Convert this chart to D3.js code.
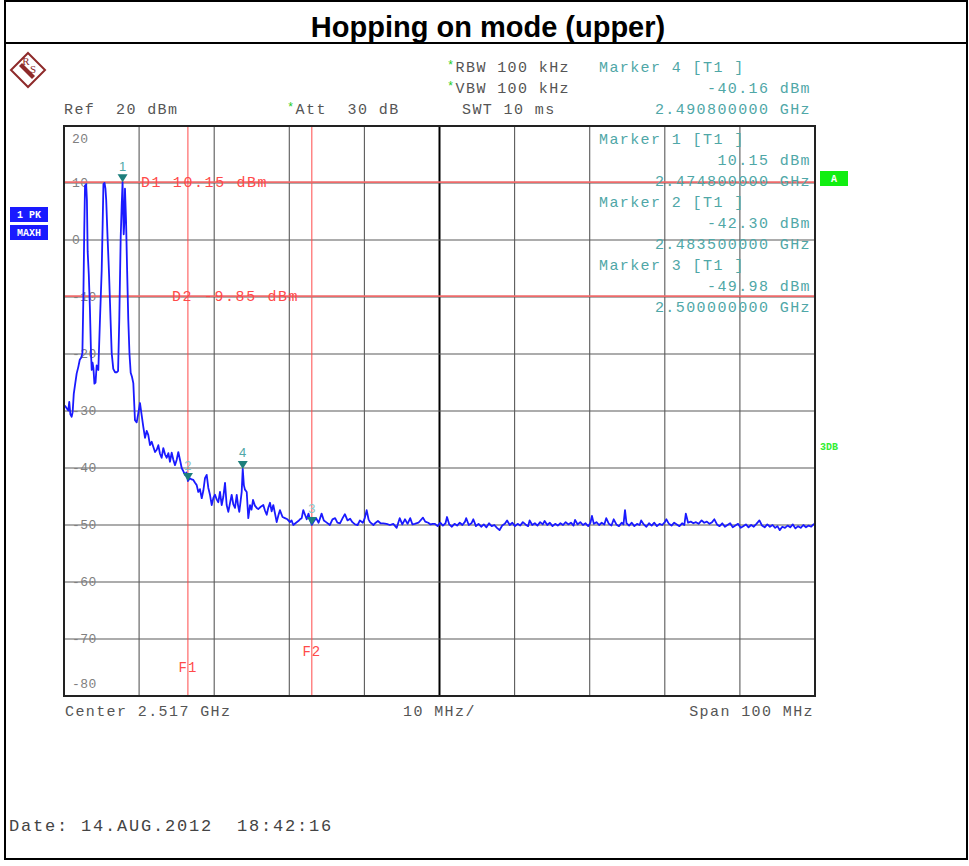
<!DOCTYPE html>
<html><head><meta charset="utf-8">
<script src="https://cdn.jsdelivr.net/npm/d3@7"></script>
<style>
html,body{margin:0;padding:0;background:#fff;}
svg{display:block;}
text{white-space:pre;}
.mono{font-family:"Liberation Mono","DejaVu Sans Mono",monospace;}
</style></head>
<body><svg id="c" width="969" height="866"></svg>
<script>
// ---------- DATA ----------
const title = "Hopping on mode (upper)";
const centerGHz = 2.517;
const spanMHz = 100;
const refLevel = 20;
const yTickValues = [20, 10, 0, -10, -20, -30, -40, -50, -60, -70, -80];
const yTickLabels = ["20", "10", "0", "-10", "-20", "-30", "-40", "-50", "-60", "-70", "-80"];

// trace, near part: frequency (MHz) and level (dBm)
const nearFreqMHz = [
 2467.0,2467.2,2467.36,2467.57,2467.7,2467.85,2468.02,2468.15,2468.3,2468.46,
 2468.69,2468.9,2469.1,2469.3,2469.45,2469.58,2469.7,2469.8,2469.88,2469.95,
 2470.05,2470.15,2470.3,2470.45,2470.6,2470.69,2470.8,2470.92,2471.05,2471.2,
 2471.35,2471.57,2471.79,2472.02,2472.15,2472.25,2472.4,2472.52,2472.62,2472.8,
 2473.0,2473.2,2473.35,2473.56,2473.8,2474.02,2474.2,2474.36,2474.55,2474.68,
 2474.8,2474.88,2474.95,2475.05,2475.12,2475.26,2475.4,2475.56,2475.72,2475.88,
 2476.05,2476.23,2476.45,2476.68,2476.89,2477.12,2477.35,2477.56,2477.79,2478.01,
 2478.22,2478.45,2478.68,2478.9,2479.12,2479.35,2479.56,2479.78,2480.0,2480.22,
 2480.45,2480.68,2480.9,2481.11,2481.34,2481.55,2481.78,2482.0,2482.22,2482.45,
 2482.67,2482.9,2483.11,2483.3,2483.5,2483.75,2484.0,2484.22,2484.45,2484.67,
 2484.88,2485.1,2485.34,2485.55,2485.77,2486.0,2486.22,2486.44,2486.67,2486.9,
 2487.11,2487.33,2487.55,2487.77,2488.0,2488.22,2488.44,2488.66,2488.88,2489.1,
 2489.33,2489.55,2489.77,2490.0,2490.17,2490.34,2490.5,2490.66,2490.8,2490.95,
 2491.1,2491.33,2491.54,2491.77,2491.97,2492.17,2492.42,2492.66,2492.87,2493.2,
 2493.54,2493.77,2493.99,2494.2,2494.43,2494.65,2494.87,2495.1,2495.32,2495.55,
 2495.75,2496.1,2496.42,2496.75,2497.09,2497.3,2497.53,2497.9,2498.2,2498.42,
 2498.65,2498.86,2499.09,2499.32,2499.56,2499.8,2500.0,2500.25,2500.57,2500.9,
 2501.3,2501.6,2501.9,2502.4,2502.75,2503.1,2503.4,2503.75,2504.1,2504.4,
 2504.75,2505.1,2505.4,2505.75,2506.1,2506.4,2506.8,2507.05,2507.3,2507.55,
 2507.75,2508.2,2508.5,2508.8,2509.15,2509.5,2509.95,2510.4,2510.85,2511.3,
 2511.7,2512.05,2512.4,2512.75,2513.1,2513.4,2513.7,2514.2,2514.8,2515.1,
 2515.5,2515.8,2516.1
];
const nearLevelDbm = [
 -29.0,-29.2,-29.5,-29.9,-28.4,-30.6,-31.0,-30.2,-27.0,-25.5,
 -23.4,-22.3,-21.0,-20.6,-19.8,-10.0,2.0,9.6,8.0,9.8,
 7.0,-2.0,-6.0,-12.0,-20.0,-22.8,-21.5,-22.5,-25.2,-25.0,
 -22.0,-22.8,-14.0,-5.3,3.0,9.8,10.0,9.0,7.0,0.5,
 -6.0,-14.0,-19.8,-22.6,-23.2,-23.2,-23.0,-14.0,0.5,6.0,
 10.15,5.0,1.0,3.5,9.0,3.5,-5.0,-14.0,-20.0,-23.3,
 -24.0,-25.1,-31.6,-32.0,-30.4,-28.6,-30.8,-32.8,-34.7,-33.5,
 -34.2,-36.0,-35.4,-36.3,-37.2,-36.8,-36.0,-37.5,-38.2,-36.5,
 -37.6,-38.2,-37.4,-38.9,-37.3,-38.5,-39.5,-38.6,-37.2,-38.6,
 -40.0,-40.6,-41.2,-40.8,-42.3,-41.8,-42.0,-42.1,-42.6,-43.0,
 -44.2,-43.7,-45.3,-44.0,-41.8,-41.2,-43.5,-44.7,-46.5,-45.2,
 -44.7,-45.5,-46.0,-44.2,-46.5,-45.0,-42.6,-46.5,-47.7,-46.2,
 -44.7,-46.4,-47.0,-44.7,-46.5,-47.7,-46.0,-44.2,-40.16,-43.0,
 -43.8,-44.2,-48.8,-46.5,-47.3,-45.6,-46.6,-47.0,-47.2,-46.8,
 -46.5,-47.5,-48.2,-47.0,-46.1,-47.6,-46.5,-48.0,-49.5,-48.3,
 -47.4,-48.6,-48.8,-49.0,-49.5,-49.2,-50.0,-49.6,-49.3,-49.0,
 -48.8,-47.4,-48.2,-49.0,-48.0,-49.3,-49.98,-49.4,-48.8,-49.6,
 -48.0,-49.2,-49.5,-50.0,-49.0,-48.8,-49.6,-49.7,-48.8,-48.1,
 -49.2,-48.9,-49.5,-49.9,-50.0,-49.2,-49.6,-48.8,-47.4,-49.0,
 -49.5,-50.0,-49.6,-49.3,-49.7,-49.7,-49.8,-50.0,-49.8,-50.5,
 -48.8,-49.9,-49.0,-49.8,-48.8,-49.9,-49.8,-49.6,-48.7,-49.4,
 -49.6,-49.9,-49.8
];
// trace, noise floor part
const floorFreqMHz = [
 2516.4,2516.75,2517.1,2517.45,2517.8,2518.0,2518.3,2518.65,2519.0,2519.35,
 2519.7,2520.05,2520.4,2520.55,2520.9,2521.25,2521.5,2521.85,2522.2,2522.55,
 2522.9,2523.25,2523.6,2523.95,2524.3,2524.65,2525.0,2525.35,2525.7,2526.0,
 2526.35,2526.7,2527.05,2527.4,2527.75,2528.1,2528.45,2528.8,2529.0,2529.35,
 2529.7,2530.05,2530.4,2530.75,2531.0,2531.35,2531.7,2532.05,2532.4,2532.75,
 2533.1,2533.45,2533.8,2534.15,2534.5,2534.85,2535.05,2535.4,2535.75,2536.1,
 2536.45,2536.8,2537.1,2537.3,2537.55,2537.9,2538.25,2538.6,2538.95,2539.2,
 2539.55,2539.9,2540.2,2540.55,2540.9,2541.25,2541.5,2541.7,2541.9,2542.25,
 2542.6,2542.95,2543.3,2543.65,2543.85,2544.2,2544.55,2544.9,2545.25,2545.6,
 2545.95,2546.3,2546.65,2547.0,2547.2,2547.55,2547.9,2548.25,2548.6,2548.95,
 2549.3,2549.6,2549.8,2550.1,2550.45,2550.8,2551.15,2551.5,2551.9,2552.25,
 2552.6,2552.95,2553.3,2553.6,2553.95,2554.3,2554.65,2555.0,2555.35,2555.7,
 2556.05,2556.4,2556.75,2557.1,2557.45,2557.8,2558.15,2558.5,2558.85,2559.2,
 2559.6,2559.95,2560.3,2560.65,2561.0,2561.35,2561.7,2562.0,2562.3,2562.65,
 2563.0,2563.35,2563.7,2564.05,2564.4,2564.75,2565.1,2565.45,2565.8,2566.15,
 2566.5,2566.8,2567.0
];
const floorLevelDbm = [
 -49.8,-50.2,-49.6,-50.1,-49.7,-48.6,-49.9,-50.3,-49.8,-50.1,
 -49.6,-50.0,-49.4,-48.8,-50.0,-49.7,-49.0,-50.2,-49.8,-50.3,
 -49.9,-50.4,-49.7,-50.2,-50.0,-50.5,-50.9,-50.1,-49.8,-49.2,
 -50.0,-49.6,-50.2,-49.8,-50.1,-49.5,-49.9,-50.2,-49.2,-50.0,
 -49.7,-50.1,-49.5,-49.9,-49.3,-50.0,-49.6,-50.2,-49.8,-50.1,
 -49.7,-50.0,-49.5,-49.9,-49.6,-50.1,-49.1,-49.9,-49.5,-50.0,
 -49.7,-50.2,-49.6,-48.4,-49.8,-49.5,-50.0,-49.6,-49.9,-48.8,
 -49.8,-50.1,-49.0,-49.9,-50.2,-49.6,-49.9,-47.4,-49.7,-50.1,
 -49.6,-50.2,-49.8,-50.0,-49.2,-49.9,-50.3,-49.7,-50.1,-49.6,
 -50.2,-49.8,-50.0,-49.5,-49.0,-49.8,-50.1,-49.6,-49.9,-50.2,
 -49.7,-50.0,-48.0,-49.6,-49.4,-49.7,-49.5,-49.8,-49.2,-49.6,
 -49.4,-49.8,-49.5,-49.0,-49.9,-50.2,-49.7,-50.3,-50.0,-49.7,
 -50.4,-50.1,-49.8,-50.5,-50.2,-49.9,-50.4,-50.0,-50.3,-49.8,
 -49.2,-50.1,-50.4,-49.9,-50.3,-50.0,-50.5,-50.2,-50.9,-50.3,
 -50.5,-50.1,-50.4,-49.9,-50.6,-50.2,-50.5,-50.0,-50.4,-50.1,
 -50.3,-49.9,-49.8
];

// markers
const markerIds = ["1", "2", "3", "4"];
const markerFreqMHz = [2474.8, 2483.5, 2500.0, 2490.8];
const markerLevelDbm = [10.15, -42.30, -49.98, -40.16];
const markerFreqLabels = ["2.474800000 GHz", "2.483500000 GHz", "2.500000000 GHz", "2.490800000 GHz"];

// display lines
const dLineNames = ["D1", "D2"];
const dLineLevels = [10.15, -9.85];
const fLineNames = ["F1", "F2"];
const fLineFreqMHz = [2483.5, 2500.0];

// header / footer texts
const rbwText = "RBW 100 kHz";
const vbwText = "VBW 100 kHz";
const refText = "Ref  20 dBm";
const attText = "Att  30 dB";
const swtText = "SWT 10 ms";
const footerLeft = "Center 2.517 GHz";
const footerMid = "10 MHz/";
const footerRight = "Span 100 MHz";
const dateText = "Date: 14.AUG.2012  18:42:16";

// ---------- DRAW ----------
const svg = d3.select("#c");
const plot = {left: 64, right: 815, top: 126, bottom: 696};

const startMHz = centerGHz * 1000 - spanMHz / 2;
const x = d3.scaleLinear().domain([startMHz, startMHz + spanMHz]).range([plot.left, plot.right]);
const y = d3.scaleLinear().domain([-80, refLevel]).range([plot.bottom, plot.top]);

const teal = "#4fa7a7";
const tealDark = "#1d7f7c";
const red = "#ff4a4a";
const gray = "#555";

// outer frame + title
svg.append("rect").attr("x", 5).attr("y", 1).attr("width", 962).attr("height", 858)
  .attr("fill", "none").attr("stroke", "#000").attr("stroke-width", 2);
svg.append("line").attr("x1", 5).attr("x2", 967).attr("y1", 43).attr("y2", 43)
  .attr("stroke", "#000").attr("stroke-width", 2);
svg.append("text").attr("x", 488).attr("y", 37).attr("text-anchor", "middle")
  .attr("font-family", "Liberation Sans, Arial, sans-serif").attr("font-weight", "bold")
  .attr("font-size", 29).attr("fill", "#000").text(title);

// R&S logo
const logo = svg.append("g").attr("transform", "translate(28,70)");
const logoCol = "#8e2a2a";
logo.append("path").attr("d", "M0,-17 L17,0 L0,17 L-17,0 Z").attr("fill", "#fff")
  .attr("stroke", logoCol).attr("stroke-width", 2);
logo.append("path").attr("d", "M-9,-4 L4,9 L7,6 L-6,-7 Z").attr("fill", logoCol);
logo.append("text").attr("x", -2).attr("y", -5).attr("font-family", "Liberation Serif, serif")
  .attr("font-size", 11).attr("fill", logoCol).attr("text-anchor", "middle").text("R");
logo.append("text").attr("x", 5).attr("y", 3).attr("font-family", "Liberation Serif, serif")
  .attr("font-size", 11).attr("fill", logoCol).attr("text-anchor", "middle").text("S");

// header texts
function monoText(xp, yp, str, opts = {}) {
  return svg.append("text").attr("class", "mono").attr("x", xp).attr("y", yp)
    .attr("font-size", opts.size || 15).attr("letter-spacing", opts.ls != null ? opts.ls : 1.4)
    .attr("fill", opts.fill || gray).attr("dominant-baseline", "central")
    .attr("text-anchor", opts.anchor || "start").text(str);
}
function starText(xp, yp, str) {
  const t = svg.append("text").attr("class", "mono").attr("x", xp).attr("y", yp)
    .attr("font-size", 15).attr("letter-spacing", 1.4).attr("fill", gray).attr("dominant-baseline", "central");
  t.append("tspan").attr("fill", "#22cc22").attr("font-size", 12).attr("dy", -2).text("*");
  t.append("tspan").attr("dy", 2).text(str);
}
starText(447, 68, rbwText);
starText(447, 89, vbwText);
monoText(64, 110, refText);
starText(287, 110, attText);
monoText(462, 110, swtText);
monoText(599, 68, "Marker 4 [T1 ]", {fill: teal});
monoText(811, 89, markerLevelDbm[3].toFixed(2) + " dBm", {fill: teal, anchor: "end"});
monoText(811, 110, markerFreqLabels[3], {fill: teal, anchor: "end"});

// grid
const g = svg.append("g");
const xGrid = d3.range(0, 11).map(i => startMHz + i * spanMHz / 10);
g.selectAll(".vg").data(xGrid).join("line")
  .attr("x1", d => x(d)).attr("x2", d => x(d)).attr("y1", plot.top).attr("y2", plot.bottom)
  .attr("stroke", (d, i) => i === 5 ? "#000" : "#5a5a5a")
  .attr("stroke-width", (d, i) => i === 5 ? 2 : 1.1);
g.selectAll(".hg").data(yTickValues).join("line")
  .attr("x1", plot.left).attr("x2", plot.right).attr("y1", d => y(d)).attr("y2", d => y(d))
  .attr("stroke", "#5a5a5a").attr("stroke-width", 1.1);

// y tick labels inside plot
g.selectAll(".yl").data(yTickValues).join("text").attr("class", "mono")
  .attr("x", 72)
  .attr("y", d => y(d) + (d === 20 ? 13 : d === -80 ? -12 : 0))
  .attr("dominant-baseline", "central").attr("font-size", 13).attr("letter-spacing", 0.5)
  .attr("fill", "#808080").text((d, i) => yTickLabels[i]);

// F lines
fLineFreqMHz.forEach(f => {
  svg.append("line").attr("x1", x(f)).attr("x2", x(f)).attr("y1", plot.top).attr("y2", plot.bottom)
    .attr("stroke", red).attr("stroke-width", 1);
});
[668, 652].forEach((yy, i) => {
  svg.append("text").attr("class", "mono").attr("x", x(fLineFreqMHz[i])).attr("y", yy)
    .attr("text-anchor", "middle").attr("dominant-baseline", "central").attr("font-size", 14)
    .attr("letter-spacing", 1).attr("fill", red).text(fLineNames[i]);
});

// D lines
dLineLevels.forEach(lv => {
  svg.append("line").attr("x1", plot.left).attr("x2", plot.right).attr("y1", y(lv)).attr("y2", y(lv))
    .attr("stroke", "#ee6a6a").attr("stroke-width", 1.8);
});
monoText(141, y(dLineLevels[0]) + 1, dLineNames[0] + " " + dLineLevels[0].toFixed(2) + " dBm", {fill: red, ls: 1.6});
monoText(172, y(dLineLevels[1]) + 1, dLineNames[1] + " " + dLineLevels[1].toFixed(2) + " dBm", {fill: red, ls: 1.6});

// marker info (markers 1..3)
[0, 1, 2].forEach(i => {
  const y0 = 140 + i * 63;
  monoText(599, y0, "Marker " + markerIds[i] + " [T1 ]", {fill: teal});
  monoText(811, y0 + 21, markerLevelDbm[i].toFixed(2) + " dBm", {fill: teal, anchor: "end"});
  monoText(811, y0 + 42, markerFreqLabels[i], {fill: teal, anchor: "end"});
});

// trace
const traceFreq = nearFreqMHz.concat(floorFreqMHz);
const traceLevel = nearLevelDbm.concat(floorLevelDbm);
const tracePts = traceFreq.map((f, i) => [f, traceLevel[i]]);
svg.append("path").datum(tracePts)
  .attr("d", d3.line().x(d => x(d[0])).y(d => y(d[1])))
  .attr("fill", "none").attr("stroke", "#1a1aff").attr("stroke-width", 1.8)
  .attr("stroke-linejoin", "round");

// markers
markerIds.forEach((id, i) => {
  const mx = x(markerFreqMHz[i]), my = y(markerLevelDbm[i]);
  svg.append("path").attr("d", `M${mx - 5},${my - 8} L${mx + 5},${my - 8} L${mx},${my} Z`)
    .attr("fill", tealDark);
  svg.append("text").attr("x", mx).attr("y", my - 16).attr("text-anchor", "middle")
    .attr("dominant-baseline", "central").attr("font-family", "Liberation Sans, sans-serif")
    .attr("font-size", 13).attr("fill", id === "2" || id === "3" ? "#8cc6c6" : teal).text(id);
});

// left trace info boxes
[["1 PK", 207], ["MAXH", 225]].forEach(([t, yy]) => {
  svg.append("rect").attr("x", 10).attr("y", yy).attr("width", 38).attr("height", 15).attr("fill", "#1a1aff");
  svg.append("text").attr("class", "mono").attr("x", 29).attr("y", yy + 8).attr("text-anchor", "middle")
    .attr("dominant-baseline", "central").attr("font-size", 10).attr("font-weight", "bold")
    .attr("fill", "#fff").text(t);
});
// right A box and 3DB
svg.append("rect").attr("x", 820).attr("y", 171).attr("width", 28).attr("height", 15).attr("fill", "#11ee11");
svg.append("text").attr("class", "mono").attr("x", 834).attr("y", 179).attr("text-anchor", "middle")
  .attr("dominant-baseline", "central").attr("font-size", 10).attr("font-weight", "bold")
  .attr("fill", "#fff").text("A");
svg.append("text").attr("class", "mono").attr("x", 820).attr("y", 447)
  .attr("dominant-baseline", "central").attr("font-size", 10).attr("font-weight", "bold")
  .attr("fill", "#33ee33").text("3DB");

// plot frame
svg.append("rect").attr("x", plot.left).attr("y", plot.top).attr("width", plot.right - plot.left)
  .attr("height", plot.bottom - plot.top).attr("fill", "none").attr("stroke", "#222").attr("stroke-width", 2);

// footer
monoText(65, 712, footerLeft);
monoText(403, 712, footerMid);
monoText(814, 712, footerRight, {anchor: "end"});
monoText(9, 826, dateText, {size: 17, ls: 1.8, fill: "#444"});
</script></body></html>
